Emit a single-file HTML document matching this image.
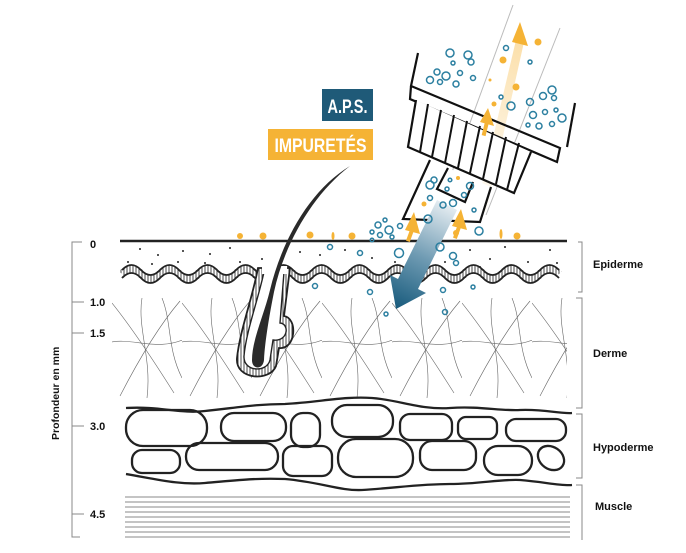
<!DOCTYPE html>
<html><head><meta charset="utf-8"><style>
html,body{margin:0;padding:0;background:#fff;}
svg{display:block;}
text{font-family:"Liberation Sans",sans-serif;}
</style></head><body>
<svg width="686" height="553" viewBox="0 0 686 553" xmlns="http://www.w3.org/2000/svg">
<defs>
<pattern id="vh" width="3" height="10" patternUnits="userSpaceOnUse"><rect width="3" height="10" fill="#fff"/><line x1="1" y1="0" x2="1" y2="10" stroke="#333" stroke-width="0.9"/></pattern>
<pattern id="fib" width="70" height="100" patternUnits="userSpaceOnUse" x="112" y="298">
<g fill="none" stroke="#666" stroke-width="0.6">
<path d="M0,5 C20,30 40,60 62,95"/><path d="M68,3 C45,30 25,65 8,98"/>
<path d="M30,0 C25,30 40,60 35,100"/><path d="M-5,45 C20,38 45,55 75,40"/>
<path d="M50,0 C60,25 55,50 70,80"/>
</g></pattern>
<path id="wv" d="M122,274 q9.5,-10 19,0 t19,0 t19,0 t19,0 t19,0 t19,0 t19,0 t19,0 t19,0 t19,0 t19,0 t19,0 t19,0 t19,0 t19,0 t19,0 t19,0 t19,0 t19,0 t19,0 t19,0 t19,0 t19,0"/>
<linearGradient id="bg" x1="447" y1="205" x2="396" y2="309" gradientUnits="userSpaceOnUse">
<stop offset="0" stop-color="#e4ecf1"/><stop offset="0.5" stop-color="#6f9bb3"/><stop offset="1" stop-color="#175a7c"/></linearGradient>
<linearGradient id="og" x1="480" y1="210" x2="520" y2="30" gradientUnits="userSpaceOnUse">
<stop offset="0" stop-color="#f6c25a" stop-opacity="0.05"/><stop offset="1" stop-color="#f6b335" stop-opacity="0.45"/></linearGradient>
</defs>

<!-- dermis fibers -->
<rect x="112" y="298" width="455" height="100" fill="url(#fib)"/>

<!-- surface -->
<line x1="120" y1="241" x2="567" y2="241" stroke="#222" stroke-width="2.5"/>
<g fill="#222">
<circle cx="140" cy="249" r="1"/><circle cx="158" cy="255" r="1"/><circle cx="183" cy="251" r="1"/><circle cx="210" cy="254" r="1"/><circle cx="230" cy="248" r="1"/><circle cx="128" cy="262" r="1"/><circle cx="152" cy="264" r="1"/><circle cx="178" cy="262" r="1"/><circle cx="205" cy="263" r="1"/><circle cx="240" cy="262" r="1"/><circle cx="262" cy="259" r="1"/><circle cx="300" cy="252" r="1"/><circle cx="320" cy="255" r="1"/><circle cx="345" cy="250" r="1"/><circle cx="372" cy="258" r="1"/><circle cx="395" cy="262" r="1"/><circle cx="425" cy="252" r="1"/><circle cx="445" cy="262" r="1"/><circle cx="470" cy="250" r="1"/><circle cx="490" cy="259" r="1"/><circle cx="505" cy="247" r="1"/><circle cx="528" cy="262" r="1"/><circle cx="550" cy="250" r="1"/><circle cx="557" cy="263" r="1"/><circle cx="480" cy="267" r="1"/>
</g>
<!-- wavy band -->
<g fill="none">
<use href="#wv" stroke="url(#vh)" stroke-width="8"/>
<use href="#wv" transform="translate(0,-4)" stroke="#222" stroke-width="1.8"/>
<use href="#wv" transform="translate(0,4)" stroke="#222" stroke-width="1.8"/>
</g>

<!-- follicle -->
<path d="M258,268 C252,300 240,330 237,358 C235,380 270,382 276,366 L279,348 C296,350 298,318 284,316 L290,268 Z" fill="url(#vh)" stroke="#222" stroke-width="1.8"/>
<path d="M264,272 C258,300 246,332 244,356 C243,372 267,373 270,360 L273,340 C288,342 290,324 280,323 L284,272 Z" fill="#fff" stroke="#222" stroke-width="1.4"/>
<rect x="262" y="266" width="25" height="8" fill="#fff"/>
<!-- hair -->
<path d="M350,166 C310,190 282,240 270,290 C264,315 252,340 252,360 C252,370 263,370 264,360 C265,340 270,312 274,292 C284,245 312,195 350,166 Z" fill="#2a2a2a"/>

<!-- hypodermis -->
<g fill="none" stroke="#222" stroke-width="2.3">
<path d="M126,408 C160,406 180,414 205,411 C235,408 255,404 285,404 C320,402 345,396 372,398 C400,400 420,410 450,408 C480,406 500,411 520,410 C545,409 560,414 572,413"/>
<path d="M126,474 C160,480 180,485 205,483 C240,480 255,478 285,479 C320,482 340,491 362,490 C395,488 420,484 450,484 C480,484 500,479 520,480 C545,482 560,486 572,485"/>
<rect x="126" y="410" width="81" height="36" rx="17"/>
<rect x="221" y="413" width="65" height="28" rx="13"/>
<rect x="291" y="413" width="29" height="34" rx="12"/>
<rect x="332" y="405" width="61" height="32" rx="15"/>
<rect x="400" y="414" width="52" height="26" rx="10"/>
<rect x="458" y="417" width="39" height="22" rx="8"/>
<rect x="506" y="419" width="60" height="22" rx="10"/>
<rect x="132" y="450" width="48" height="23" rx="10"/>
<rect x="186" y="443" width="92" height="27" rx="13"/>
<rect x="283" y="446" width="49" height="30" rx="10"/>
<rect x="338" y="439" width="75" height="38" rx="18"/>
<rect x="420" y="441" width="56" height="29" rx="12"/>
<rect x="484" y="446" width="48" height="29" rx="14"/>
<ellipse cx="551" cy="458" rx="14" ry="11" transform="rotate(35 551 458)"/>
</g>

<!-- muscle -->
<g stroke="#8a8a8a" stroke-width="1">
<line x1="125" y1="497" x2="570" y2="497"/><line x1="125" y1="502" x2="570" y2="502"/><line x1="125" y1="507" x2="570" y2="507"/><line x1="125" y1="512" x2="570" y2="512"/><line x1="125" y1="517" x2="570" y2="517"/><line x1="125" y1="522" x2="570" y2="522"/><line x1="125" y1="527" x2="570" y2="527"/><line x1="125" y1="532" x2="570" y2="532"/><line x1="125" y1="537" x2="570" y2="537"/>
</g>

<!-- axis -->
<g stroke="#888" stroke-width="1" fill="none">
<path d="M82,242 H72 V537 H80"/>
<line x1="72" y1="302" x2="84" y2="302"/><line x1="72" y1="333" x2="84" y2="333"/><line x1="72" y1="426" x2="84" y2="426"/><line x1="72" y1="514" x2="84" y2="514"/>
<path d="M578,242 H582 V292 H578"/><path d="M576,298 H582 V408 H576"/><path d="M576,414 H582 V478 H576"/><path d="M576,485 H582 V540"/>
</g>
<g font-size="11" font-weight="bold" fill="#111">
<text x="90" y="248">0</text><text x="90" y="306">1.0</text><text x="90" y="337">1.5</text><text x="90" y="430">3.0</text><text x="90" y="518">4.5</text>
<text transform="translate(59,440) rotate(-90)" font-size="10.5">Profondeur en mm</text>
<text x="593" y="268">Epiderme</text><text x="593" y="357">Derme</text><text x="593" y="451">Hypoderme</text><text x="595" y="510">Muscle</text>
</g>

<!-- beams -->
<line x1="513" y1="5" x2="440" y2="205" stroke="#bbb" stroke-width="1"/>
<line x1="560" y1="28" x2="486" y2="215" stroke="#bbb" stroke-width="1"/>
<path d="M476,210 L516,40 L524,42 L486,212 Z" fill="url(#og)"/>

<!-- device -->
<g fill="none" stroke="#111" stroke-width="2.2">
<path d="M418,53 L411,86 L560,148 L557,162 L410,99 L411,86"/>
<line x1="567" y1="147" x2="575" y2="103"/>
<path d="M416,100 L408,147 L514,193 L531,152" fill="#fff"/>
<g stroke-width="2">
<line x1="428" y1="104" x2="420" y2="152"/><line x1="441" y1="110" x2="432" y2="157"/><line x1="454" y1="115" x2="445" y2="163"/><line x1="467" y1="121" x2="458" y2="168"/><line x1="480" y1="126" x2="470" y2="173"/><line x1="493" y1="132" x2="483" y2="179"/><line x1="506" y1="137" x2="496" y2="184"/><line x1="519" y1="143" x2="507" y2="190"/>
</g>
<path d="M430,160 L403,219 L480,222 L491,187" fill="#fff"/>
<path d="M448,168 L437,189 L465,202 L473,182" fill="#fff"/>
</g>

<!-- blue arrow -->
<path d="M457,210 L418,289 L426,293 L396,309 L390,275 L398,279 L437,200 Z" fill="url(#bg)"/>

<!-- orange arrows -->
<g fill="#f5b335">
<path d="M512,42 L520,22 L528,46 Z"/>
<path d="M480,122 L488,108 L494,126 Z"/><rect x="485" y="122" width="4" height="14" transform="rotate(14 487 122)"/>
<path d="M405,230 L414,212 L420,234 Z"/><rect x="410" y="230" width="4" height="12" transform="rotate(20 412 230)"/>
<path d="M452,226 L461,209 L467,230 Z"/><rect x="457" y="227" width="4" height="12" transform="rotate(20 459 227)"/>
<circle cx="240" cy="236" r="3"/><circle cx="263" cy="236" r="3.5"/><circle cx="310" cy="235" r="3.5"/><ellipse cx="333" cy="236" rx="1.5" ry="4"/><circle cx="352" cy="236" r="3.5"/>
<circle cx="456" cy="233" r="3"/><ellipse cx="501" cy="234" rx="1.5" ry="5"/><circle cx="517" cy="236" r="3.5"/>
<circle cx="538" cy="42" r="3.5"/><circle cx="503" cy="60" r="3.5"/><circle cx="516" cy="87" r="3.5"/><circle cx="490" cy="80" r="1.5"/><circle cx="494" cy="104" r="2.5"/><circle cx="424" cy="204" r="2.5"/><circle cx="458" cy="178" r="2"/>
</g>

<!-- bubbles -->
<g fill="none" stroke="#2b7fa0" stroke-width="1.5">
<circle cx="450" cy="53" r="4"/><circle cx="468" cy="55" r="4"/><circle cx="471" cy="62" r="3"/><circle cx="453" cy="63" r="2"/><circle cx="437" cy="72" r="3"/><circle cx="446" cy="76" r="4"/><circle cx="460" cy="73" r="2.5"/><circle cx="430" cy="80" r="3.5"/><circle cx="440" cy="82" r="2.5"/><circle cx="456" cy="84" r="3"/><circle cx="473" cy="78" r="2.5"/><circle cx="506" cy="48" r="2.5"/><circle cx="530" cy="62" r="2"/><circle cx="501" cy="97" r="2"/>
<circle cx="552" cy="90" r="4"/><circle cx="554" cy="98" r="2.5"/><circle cx="543" cy="96" r="3.5"/><circle cx="530" cy="102" r="3.5"/><circle cx="511" cy="106" r="4"/><circle cx="556" cy="110" r="2"/><circle cx="533" cy="115" r="3.5"/><circle cx="545" cy="112" r="2.5"/><circle cx="562" cy="118" r="4"/><circle cx="539" cy="126" r="3"/><circle cx="552" cy="124" r="2.5"/><circle cx="528" cy="125" r="2"/>
<circle cx="430" cy="185" r="4"/><circle cx="434" cy="180" r="3"/><circle cx="450" cy="180" r="1.8"/><circle cx="470" cy="186" r="3.5"/><circle cx="464" cy="195" r="2.5"/><circle cx="430" cy="198" r="2.5"/><circle cx="453" cy="203" r="3.5"/><circle cx="443" cy="205" r="3"/><circle cx="474" cy="210" r="2"/><circle cx="447" cy="189" r="2"/>
<circle cx="378" cy="225" r="3"/><circle cx="385" cy="220" r="2"/><circle cx="389" cy="230" r="4"/><circle cx="380" cy="235" r="2.5"/><circle cx="372" cy="232" r="2"/><circle cx="400" cy="226" r="2.5"/><circle cx="428" cy="219" r="4"/><circle cx="479" cy="231" r="4"/><circle cx="392" cy="237" r="2"/>
<circle cx="330" cy="247" r="2.5"/><circle cx="360" cy="253" r="2.5"/><circle cx="399" cy="253" r="4.5"/><circle cx="440" cy="247" r="4"/><circle cx="453" cy="256" r="3.5"/><circle cx="456" cy="263" r="2.5"/><circle cx="372" cy="240" r="1.8"/>
<circle cx="315" cy="286" r="2.5"/><circle cx="370" cy="292" r="2.5"/><circle cx="443" cy="290" r="2.5"/><circle cx="473" cy="287" r="2"/><circle cx="386" cy="314" r="2"/><circle cx="445" cy="312" r="2.5"/>
</g>

<!-- labels -->
<rect x="322" y="89" width="51" height="32" fill="#1f5a78"/>
<text x="347.5" y="113" text-anchor="middle" font-size="19" font-weight="bold" fill="#fff" textLength="40" lengthAdjust="spacingAndGlyphs">A.P.S.</text>
<rect x="268" y="129" width="105" height="31" fill="#f5b335"/>
<text x="320.5" y="152" text-anchor="middle" font-size="19" font-weight="bold" fill="#fff" textLength="92" lengthAdjust="spacingAndGlyphs">IMPURETÉS</text>
</svg>
</body></html>
